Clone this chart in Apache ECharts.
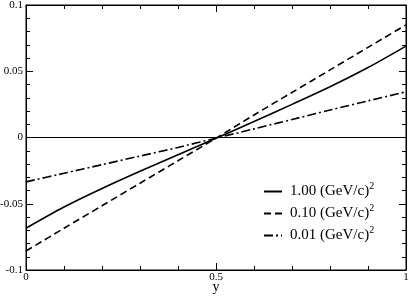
<!DOCTYPE html>
<html><head><meta charset="utf-8">
<script src="https://cdn.jsdelivr.net/npm/echarts@6/dist/echarts.min.js"></script>
<style>html,body{margin:0;padding:0;background:#fff}#c{width:409px;height:296px}</style>
</head><body><div id="c"></div>
<script>
const xs = [0,0.1,0.2,0.3,0.4,0.5,0.6,0.7,0.8,0.9,1.0];
const q100 = [-0.0685,-0.0525,-0.0385,-0.0255,-0.0130,-0.0005,0.0120,0.0250,0.0383,0.0528,0.0690];
const q010 = [-0.0857,-0.0685,-0.0515,-0.0345,-0.0175,-0.0005,0.0170,0.0340,0.0510,0.0680,0.0850];
const q001 = [-0.0335,-0.0270,-0.0205,-0.0140,-0.0075,-0.0005,0.0065,0.0136,0.0207,0.0276,0.0345];
const names = ['1.00','0.10','0.01'];
const yTicks = [-0.1,-0.05,0,0.05,0.1];
const xTicks = [0,0.5,1];

const F = 'Liberation Serif';
const pairs = a => xs.map((x,i)=>[x,a[i]]);
const styles = ['solid',[7,4],[9,3,2,3]];
const series = [q100,q010,q001].map((d,i)=>({
  name: names[i], type:'line', data: pairs(d), smooth:0.3, showSymbol:false, symbol:'none',
  lineStyle:{color:'#000', width:1.6, type: styles[i]}, itemStyle:{color:'#000'}
}));
series[0].markLine = {silent:true, symbol:'none', label:{show:false},
  lineStyle:{color:'#000', width:1, type:'solid'}, data:[{yAxis:0}]};

const chart = echarts.init(document.getElementById('c'));
const axTick = {inside:true, length:7, lineStyle:{color:'#000'}};
const minTick = {show:true, splitNumber:5, length:4, lineStyle:{color:'#000'}};
const axLine = {show:true, onZero:false, lineStyle:{color:'#000'}};
chart.setOption({
  animation:false,
  grid:{left:26, right:3, top:5, bottom:26, show:true, borderColor:'#000', borderWidth:1,
    containLabel:false, outerBoundsMode:'none'},
  legend:{orient:'vertical', left:258, top:176, itemWidth:18, itemHeight:14, itemGap:4,
    data:names, itemStyle:{opacity:0},
    formatter: n => '{a|' + n + ' (GeV/c)}{s|2}',
    textStyle:{color:'#000', fontFamily:F, fontSize:15, padding:[0,0,0,3],
      rich:{a:{fontFamily:F, fontSize:15, color:'#000'}, s:{fontFamily:F, fontSize:10, color:'#000', padding:[0,0,11,0]}}}},
  xAxis:[{type:'value', min:0, max:1, interval:0.5, name:'y', nameLocation:'middle', nameGap:10,
    nameMoveOverlap:false,
    nameTextStyle:{fontFamily:F, fontSize:14, color:'#000'},
    axisLine:axLine, axisTick:axTick, minorTick:minTick, splitLine:{show:false},
    axisLabel:{fontFamily:F, fontSize:11, color:'#000', margin:2, formatter:v=>String(v)}},
    {type:'value', position:'top', min:0, max:1, interval:0.5,
    axisLine:axLine, axisTick:axTick, minorTick:minTick, splitLine:{show:false}, axisLabel:{show:false}}],
  yAxis:[{type:'value', min:-0.1, max:0.1, interval:0.05,
    axisLine:axLine, axisTick:axTick, minorTick:minTick, splitLine:{show:false},
    axisLabel:{fontFamily:F, fontSize:11, color:'#000', margin:3, formatter:v=>String(Math.round(v*100)/100)}},
    {type:'value', position:'right', min:-0.1, max:0.1, interval:0.05,
    axisLine:axLine, axisTick:axTick, minorTick:minTick, splitLine:{show:false}, axisLabel:{show:false}}],
  series: series
});
</script></body></html>
